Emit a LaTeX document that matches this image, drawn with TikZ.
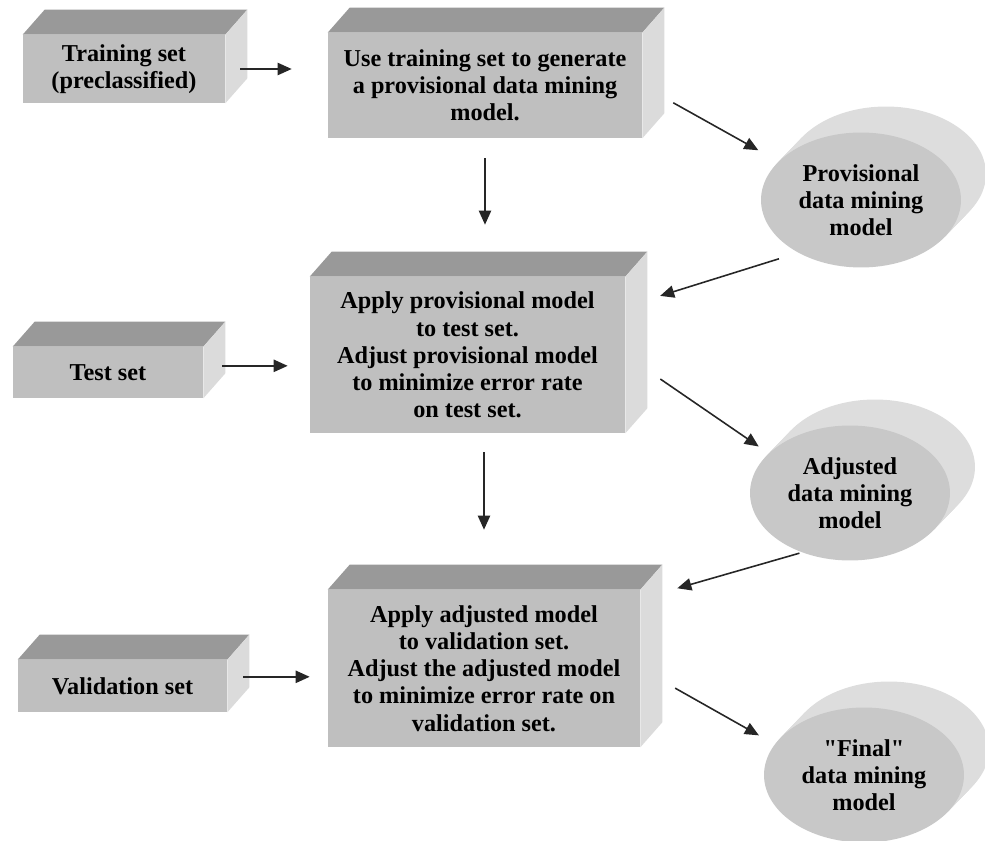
\documentclass[tikz,border=0pt]{standalone}
\usepackage{fontspec}
\setmainfont{Liberation Serif}
\usetikzlibrary{arrows.meta, shapes.geometric, backgrounds, calc}
\tikzset{
  box/.style={
    rectangle, fill=gray!50, inner sep=2pt, align=center,
    font=\bfseries\fontsize{13.8}{15.5}\selectfont
  },
  boxtop/.style={fill=gray!80},
  boxside/.style={fill=gray!28},
  disc/.style={
    ellipse, fill=gray!43, minimum width=4cm, minimum height=2.7cm,
    inner sep=0pt, align=center,
    font=\bfseries\fontsize{13.8}{15.5}\selectfont
  },
  discside/.style={fill=gray!27},
  arrow/.style={
    -{Triangle[length=8pt,width=7pt]}, line width=0.9pt, color=black!85
  }
}

\begin{document}
\begin{tikzpicture}[x=0.02cm, y=-0.02cm]
\useasboundingbox (0,0) rectangle (985,841);

% input sets and processing steps
\node[box, minimum width=4.04cm, minimum height=1.36cm] (train) at (124,69) {Training set\\(preclassified)};
\node[box, minimum width=6.28cm, minimum height=2.1cm] (gen) at (485,85.5) {Use training set to generate\\a provisional data mining\\model.};
\node[box, minimum width=3.8cm, minimum height=1.02cm] (testset) at (108,372.5) {Test set};
\node[box, minimum width=6.3cm, minimum height=3.12cm] (applyprov) at (467.5,355) {Apply provisional model\\to test set.\\Adjust provisional model\\to minimize error rate\\on test set.};
\node[box, minimum width=4.18cm, minimum height=1.04cm] (valset) at (122.5,686) {Validation set};
\node[box, minimum width=6.24cm, minimum height=3.14cm] (applyadj) at (484,668.5) {Apply adjusted model\\to validation set.\\Adjust the adjusted model\\to minimize error rate on\\validation set.};

% models
\node[disc] (prov) at (861,200) {Provisional\\data mining\\model};
\node[disc] (adj) at (850,493) {Adjusted\\data mining\\model};
\node[disc] (final) at (864,775) {\textquotedbl Final\textquotedbl\\data mining\\model};

% 3d faces
\foreach \n in {train,gen,testset,applyprov,valset,applyadj}{
  \fill[boxtop] (\n.north west) -- ++(22,-25) -- ([shift={(22,-25)}]\n.north east) -- (\n.north east) -- cycle;
  \fill[boxside] (\n.north east) -- ++(22,-25) -- ([shift={(22,-25)}]\n.south east) -- (\n.south east) -- cycle;
}
\begin{scope}[on background layer]
\foreach \n in {prov,adj,final}
  \foreach \k in {1,...,13}
    \fill[discside] ([shift={(\k*25/13,-\k*26/13)}]\n.center) ellipse [x radius=2cm, y radius=1.35cm];
\end{scope}

% flow
\draw[arrow, shorten <=0.3cm, shorten >=0.72cm] (train.east) -- (train.east -| gen.west);
\draw[arrow, shorten <=0.71cm, shorten >=0.46cm] (gen.east) -- (prov.155);
\draw[arrow, shorten <=0.4cm, shorten >=1.04cm] (gen.south) -- (gen.south |- applyprov.north);
\draw[arrow, shorten <=0.4cm, shorten >=0.73cm] (prov.220) -- (applyprov.17);
\draw[arrow, shorten <=0.38cm, shorten >=0.44cm] (testset.4.5) -- (testset.4.5 -| applyprov.west);
\draw[arrow, shorten <=0.85cm, shorten >=0.24cm] (applyprov.east) -- (adj.154);
\draw[arrow, shorten <=0.38cm, shorten >=1.2cm] (applyadj.north |- applyprov.south) -- (applyadj.north);
\draw[arrow, shorten <=0.05cm, shorten >=0.77cm] (adj.231) -- (applyadj.24);
\draw[arrow, shorten <=0.32cm, shorten >=0.36cm] (valset.5) -- (valset.5 -| applyadj.west);
\draw[arrow, shorten <=0.8cm, shorten >=0.36cm] (applyadj.east) -- (final.161);
\end{tikzpicture}
\end{document}
